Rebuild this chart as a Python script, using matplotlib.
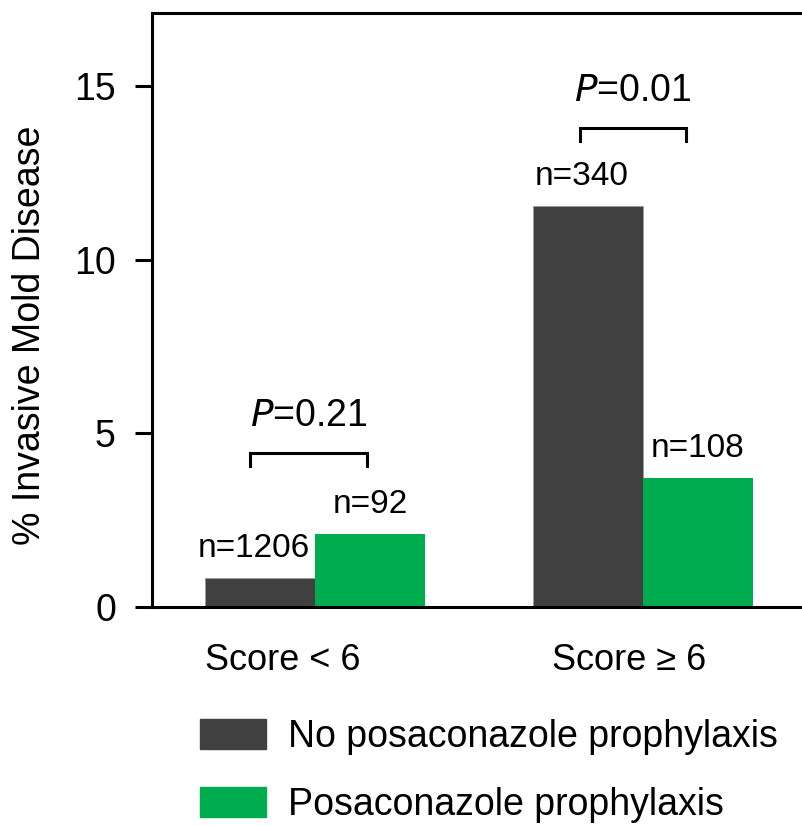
import matplotlib
matplotlib.use("Agg")
import matplotlib.pyplot as plt
from matplotlib.patches import Patch
import numpy as np

plt.rcParams['font.family'] = ['Liberation Sans', 'DejaVu Sans']

groups = ["Score < 6", "Score \u2265 6"]
series = ["No posaconazole prophylaxis", "Posaconazole prophylaxis"]
no_posa = [0.83, 11.55]
posa = [2.10, 3.71]
n_no_posa = ["n=1206", "n=340"]
n_posa = ["n=92", "n=108"]
p_values = ["0.21", "0.01"]
bracket_y = [4.43, 13.79]
bracket_x = [(-0.198, 0.159), (-0.192, 0.131)]
colors = ["#404040", "#00AD4E"]

fig = plt.figure(figsize=(8.02, 8.26), dpi=100)
ax = fig.add_axes([152/802, 1 - 607/826, 1 - 152/802, (607 - 13)/826])

x = np.arange(len(groups))
w = 0.335
ax.bar(x - w/2, no_posa, w, color=colors[0], edgecolor="#9a9a9a", linewidth=0.6)
ax.bar(x + w/2, posa, w, color=colors[1], linewidth=0)

fs = 27
for i in range(len(groups)):
    ax.text(x[i] - w/2 - 0.02, no_posa[i] + 0.4, n_no_posa[i], ha="center", va="bottom", fontsize=24)
    ax.text(x[i] + w/2, posa[i] + 0.4, n_posa[i], ha="center", va="bottom", fontsize=24)
    # bracket
    xl, xr = x[i] + bracket_x[i][0], x[i] + bracket_x[i][1]
    yb = bracket_y[i]
    ax.plot([xl, xl, xr, xr], [yb - 0.37, yb, yb, yb - 0.37], color="black", lw=2.2,
            solid_joinstyle="miter", clip_on=False)
    ax.text((xl + xr)/2, yb + 0.55, r"$\it{P}$=" + p_values[i], ha="center", va="bottom", fontsize=fs)

ax.set_xlim(-0.497, 1.485)
ax.set_ylim(0, 17.1)
ax.set_yticks([0, 5, 10, 15])
ax.tick_params(axis="y", direction="out", length=12, width=2.2, pad=14, labelsize=fs)
ax.set_xticks([])
for s in ["left", "bottom", "top"]:
    ax.spines[s].set_linewidth(2.2)
ax.spines["right"].set_visible(False)

# category labels
fig.text(283/802, 1 - 660/826, groups[0], ha="center", va="center", fontsize=26)
fig.text(629/802, 1 - 660/826, groups[1], ha="center", va="center", fontsize=26)

fig.text(30/802, 1 - 335/826, "% Invasive Mold Disease", rotation=90, ha="center", va="center", fontsize=fs)

handles = [Patch(color=colors[0]), Patch(color=colors[1])]
fig.legend(handles, series, loc="upper left", bbox_to_anchor=(200/802, 1 - 719/826),
           frameon=False, fontsize=fs, handlelength=1.75, handleheight=0.85,
           handletextpad=0.6, labelspacing=0.85, borderaxespad=0, borderpad=0)

fig.savefig("out.png", dpi=100)
